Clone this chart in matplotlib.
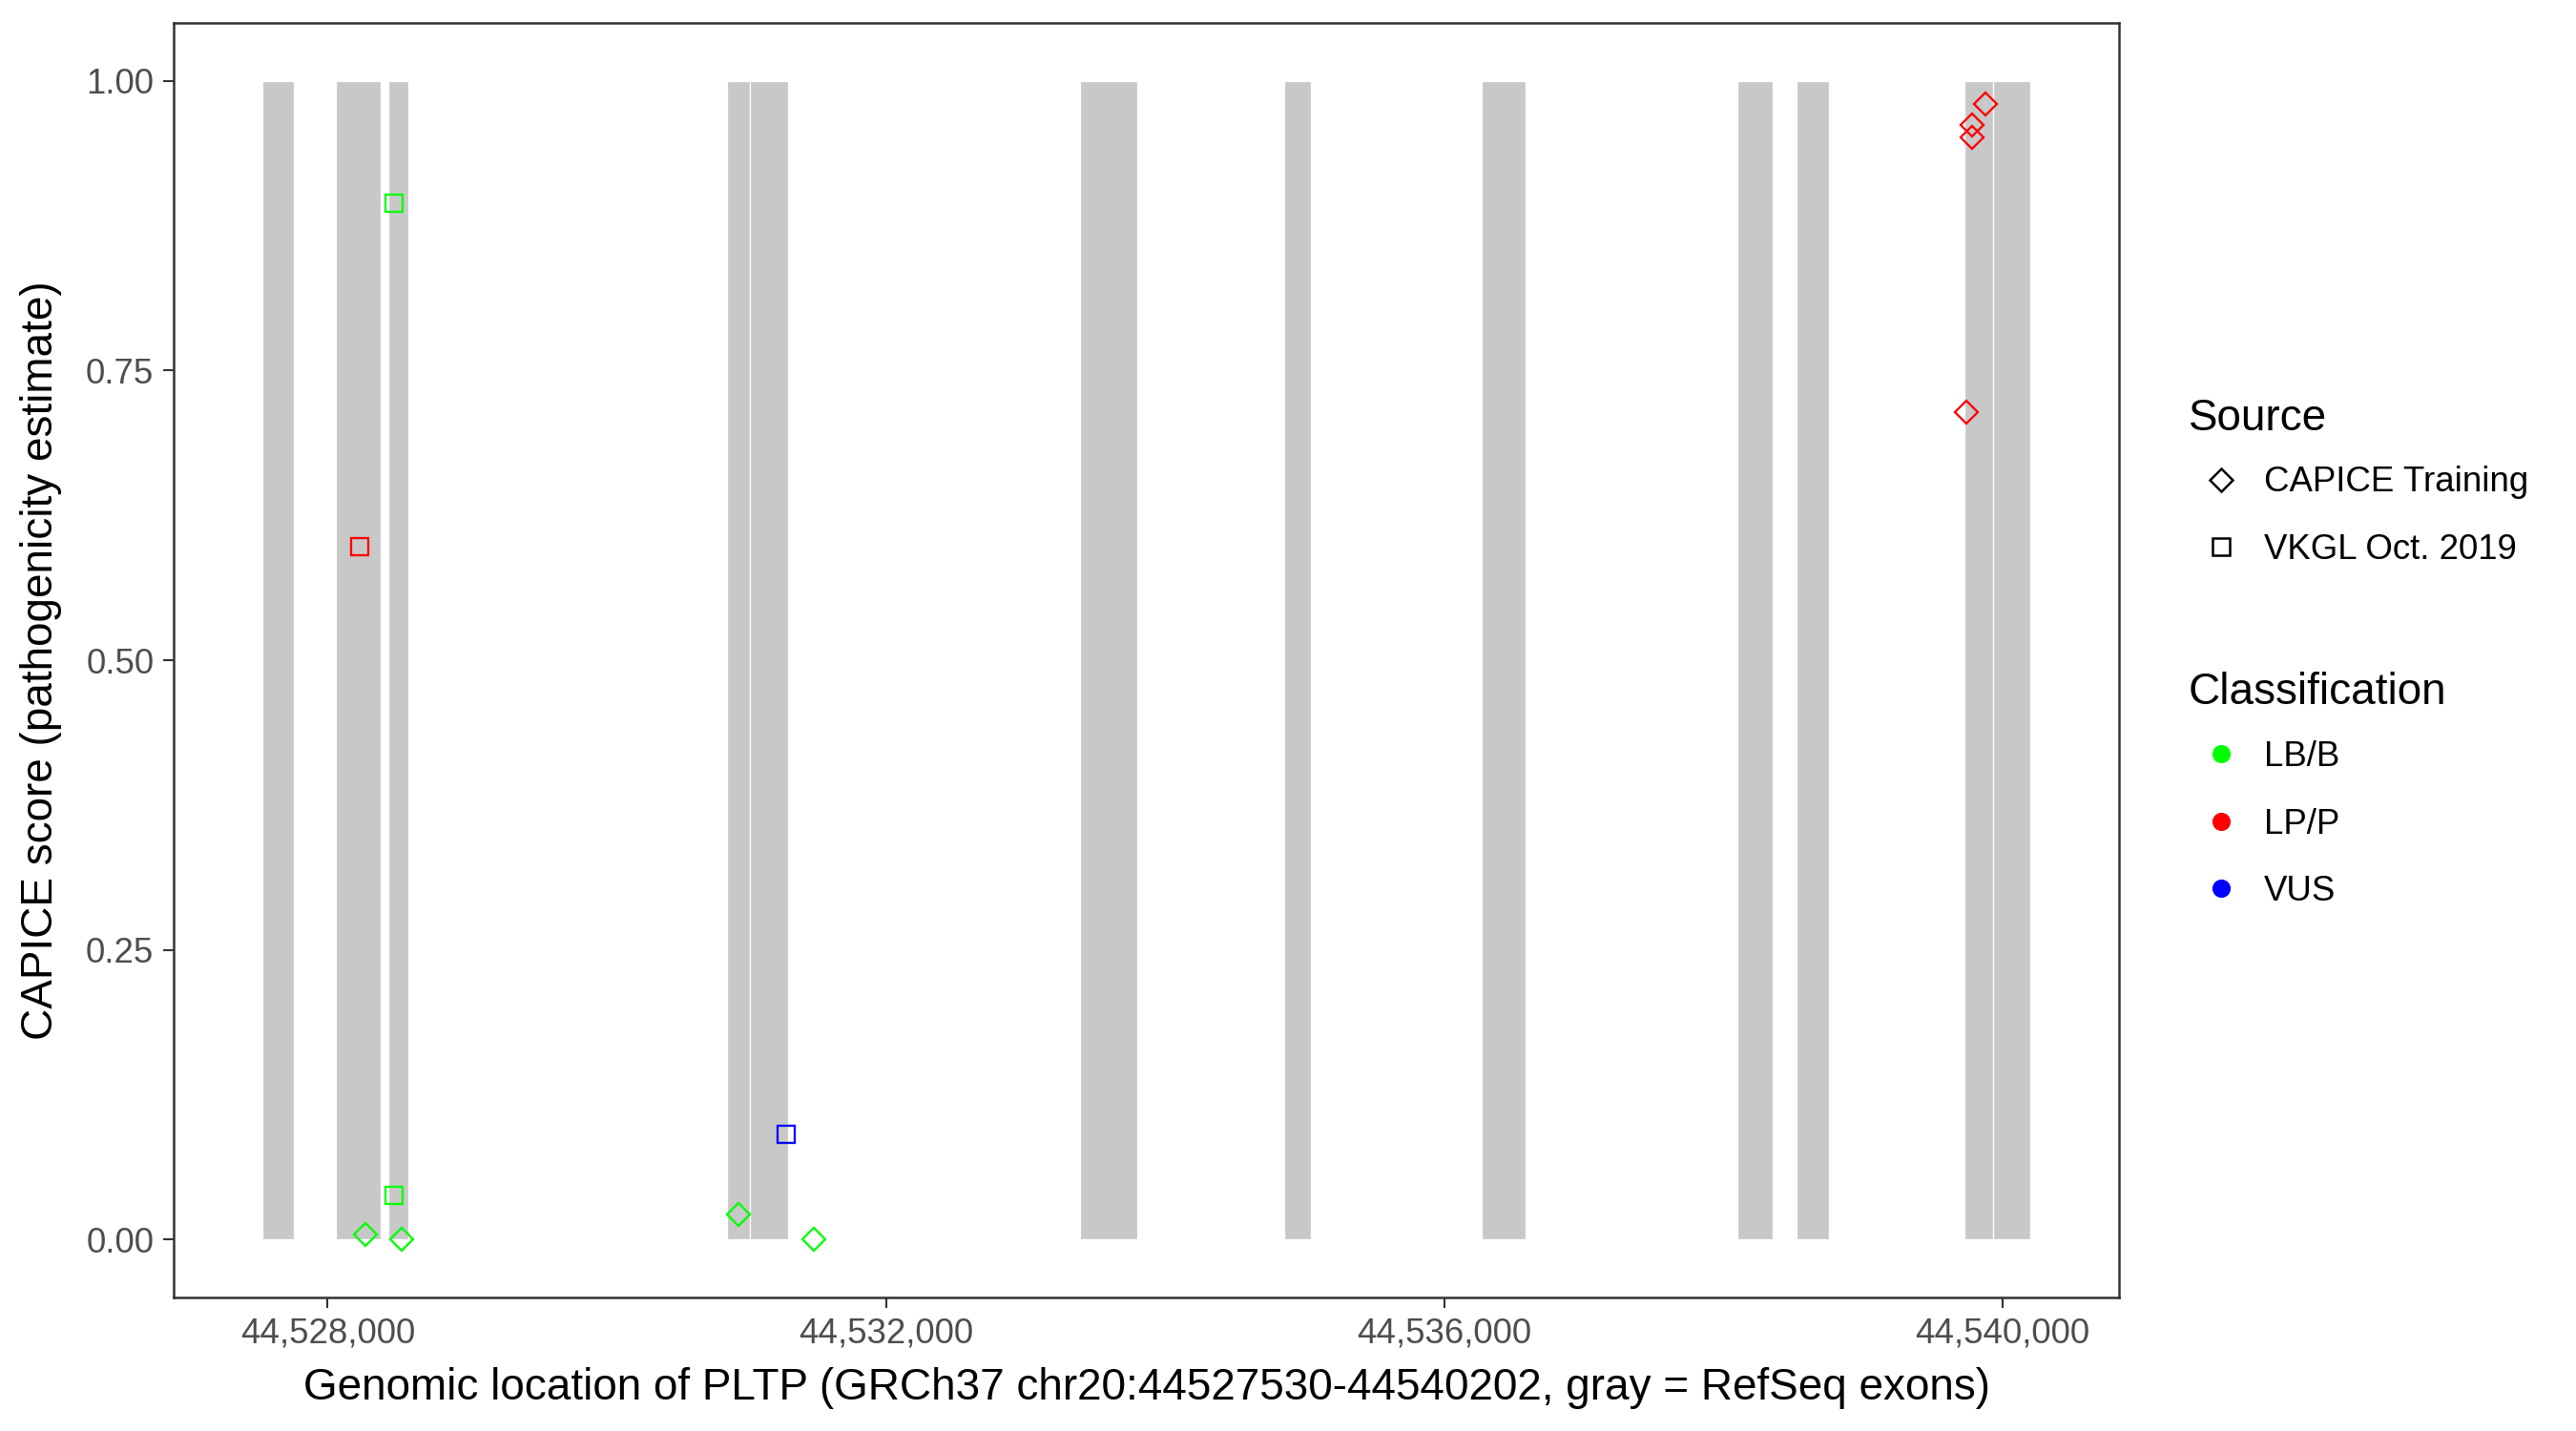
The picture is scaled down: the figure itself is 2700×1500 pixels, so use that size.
import matplotlib
matplotlib.use("Agg")
import matplotlib.pyplot as plt
from matplotlib.lines import Line2D
from matplotlib.ticker import FuncFormatter, FixedLocator

# ---- data ----
exon_starts = [44527530, 44528057, 44528434, 44530860, 44531028, 44533390,
               44534854, 44536272, 44538101, 44538524, 44539729, 44539930]
exon_ends = [44527758, 44528380, 44528577, 44531028, 44531296, 44533804,
             44535046, 44536586, 44538351, 44538756, 44539930, 44540202]

pos = [44528479, 44528230, 44528479, 44528272, 44528530, 44531285,
       44530946, 44531486, 44539880, 44539782, 44539782, 44539740]
score = [0.894, 0.598, 0.038, 0.004, 0.000, 0.091,
         0.022, 0.000, 0.980, 0.962, 0.951, 0.714]
source = ["VKGL Oct. 2019", "VKGL Oct. 2019", "VKGL Oct. 2019", "CAPICE Training",
          "CAPICE Training", "VKGL Oct. 2019", "CAPICE Training", "CAPICE Training",
          "CAPICE Training", "CAPICE Training", "CAPICE Training", "CAPICE Training"]
classification = ["LB/B", "LP/P", "LB/B", "LB/B", "LB/B", "VUS",
                  "LB/B", "LB/B", "LP/P", "LP/P", "LP/P", "LP/P"]

gene_start, gene_end = 44527530, 44540202
x_ticks = [44528000, 44532000, 44536000, 44540000]
y_ticks = [0.00, 0.25, 0.50, 0.75, 1.00]

source_levels = ["CAPICE Training", "VKGL Oct. 2019"]
class_levels = ["LB/B", "LP/P", "VUS"]
class_colors = {"LB/B": "#00FF00", "LP/P": "#FF0000", "VUS": "#0000FF"}
source_markers = {"CAPICE Training": ("D", 4.1), "VKGL Oct. 2019": ("s", 4.4)}

# ---- style ----
plt.rcParams['font.family'] = ['Liberation Sans', 'DejaVu Sans']

fig = plt.figure(figsize=(9, 5), dpi=300)
ax = fig.add_axes([0.0674, 0.0933, 0.8226 - 0.0674, 0.984 - 0.0933])

# exons
widths = [e - s for s, e in zip(exon_starts, exon_ends)]
ax.bar(exon_starts, [1.0] * len(exon_starts), width=widths, bottom=0, align='edge',
       color='#C8C8C8', edgecolor='white', linewidth=0.3, zorder=1)

# points
for p, s, src, cl in zip(pos, score, source, classification):
    m, ms = source_markers[src]
    ax.plot([p], [s], linestyle='none', marker=m, markersize=ms,
            markerfacecolor='none', markeredgecolor=class_colors[cl],
            markeredgewidth=0.55, zorder=3)

pad_x = 0.05 * (gene_end - gene_start)
ax.set_xlim(gene_start - pad_x, gene_end + pad_x)
ax.set_ylim(-0.05, 1.05)

ax.xaxis.set_major_locator(FixedLocator(x_ticks))
ax.yaxis.set_major_locator(FixedLocator(y_ticks))
ax.xaxis.set_major_formatter(FuncFormatter(lambda v, _: f"{v:,.0f}"))
ax.yaxis.set_major_formatter(FuncFormatter(lambda v, _: f"{v:.2f}"))

for sp in ax.spines.values():
    sp.set_color('#333333')
    sp.set_linewidth(0.6)
ax.tick_params(axis='both', which='major', length=2.75, width=0.5, color='#333333',
               labelsize=8.8, labelcolor='#4D4D4D', pad=2.2)

ax.set_xlabel("Genomic location of PLTP (GRCh37 chr20:44527530-44540202, gray = RefSeq exons)",
              fontsize=11, color='black', labelpad=4.2)
ax.set_ylabel("CAPICE score (pathogenicity estimate)", fontsize=11, color='black', labelpad=6)

# legends
src_handles = [Line2D([], [], linestyle='none', marker=source_markers[s][0],
                      markersize=source_markers[s][1], markerfacecolor='none',
                      markeredgecolor='black', markeredgewidth=0.6) for s in source_levels]
cls_handles = [Line2D([], [], linestyle='none', marker='o', markersize=4.6,
                      markerfacecolor=class_colors[c], markeredgecolor=class_colors[c],
                      markeredgewidth=0) for c in class_levels]

common = dict(frameon=False, loc='upper left', fontsize=8.8, title_fontsize=11,
              handlelength=1.86, handletextpad=0.3, labelspacing=0.97,
              borderpad=0, borderaxespad=0)
leg1 = fig.legend(src_handles, source_levels, title="Source",
                  bbox_to_anchor=(0.8496, 0.7223), **common)
leg1._legend_box.align = "left"
leg1._legend_box.sep = 6.7
leg2 = fig.legend(cls_handles, class_levels, title="Classification",
                  bbox_to_anchor=(0.8496, 0.5306), **common)
leg2._legend_box.align = "left"
leg2._legend_box.sep = 6.7

fig.savefig("out.png", dpi=300, facecolor='white')
